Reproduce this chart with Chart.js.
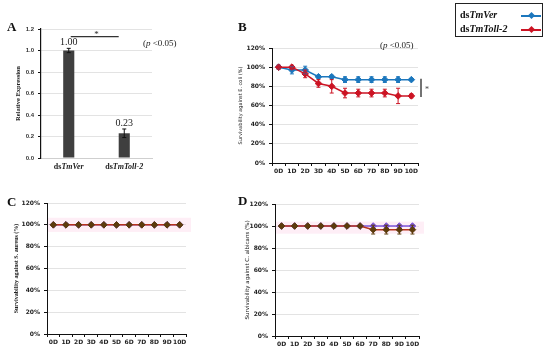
<!DOCTYPE html>
<html>
<head>
<meta charset="utf-8">
<script src="https://cdn.jsdelivr.net/npm/chart.js@4.4.0/dist/chart.umd.min.js"></script>
<style>
  html, body { margin: 0; padding: 0; background: #fff; }
  body { width: 550px; height: 351px; position: relative; overflow: hidden; font-family: "Liberation Serif", serif; }
  canvas { position: absolute; }
  .letter { position: absolute; font: bold 13px "Liberation Serif"; line-height: 13px; color: #111; }
  .pval { position: absolute; font: 9px "Liberation Serif"; line-height: 10px; color: #222; white-space: nowrap; }
  #legend { position: absolute; left: 455px; top: 3px; width: 86px; height: 32px; border: 1px solid #222; font: bold 10px "Liberation Serif"; color: #111; }
  #legend .row { position: absolute; left: 4px; height: 12px; line-height: 12px; white-space: nowrap; }
  #legend .mk { position: absolute; left: 65px; width: 20px; height: 1.5px; }
  #legend .mk::after { content: ""; position: absolute; left: 7.5px; top: -2px; width: 5px; height: 5px; transform: rotate(45deg); background: inherit; }
</style>
</head>
<body>
<canvas id="chartA" width="200" height="180" style="left:0;top:0"></canvas>
<canvas id="chartB" width="250" height="180" style="left:200px;top:0"></canvas>
<canvas id="chartC" width="200" height="171" style="left:0;top:180px"></canvas>
<canvas id="chartD" width="250" height="171" style="left:200px;top:180px"></canvas>

<div class="letter" style="left:7px;top:20px">A</div>
<div class="letter" style="left:238px;top:20px">B</div>
<div class="letter" style="left:7px;top:195px">C</div>
<div class="letter" style="left:238px;top:194px">D</div>

<div class="pval" style="left:143px;top:38px">(<i>p</i> &lt;0.05)</div>
<div class="pval" style="left:380px;top:40px">(<i>p</i> &lt;0.05)</div>

<div id="legend">
  <div class="row" style="top:5px">ds<i>TmVer</i></div>
  <div class="mk" style="top:11px;background:#1c77bd"></div>
  <div class="row" style="top:19px">ds<i>TmToll-2</i></div>
  <div class="mk" style="top:25px;background:#cc1424"></div>
</div>

<script>
// panel A: relative expression
const exprLabels = ["dsTmVer", "dsTmToll-2"];
const exprValues = [1.0, 0.23];
const exprErrors = [0.02, 0.04];

// panels B-D: survivability per day
const dayLabels = ["0D", "1D", "2D", "3D", "4D", "5D", "6D", "7D", "8D", "9D", "10D"];
const ecoliVer = [100, 97, 97, 90, 90, 87, 87, 87, 87, 87, 87];
const ecoliVerErr = [2, 4, 4, 1.5, 1.5, 3, 3, 3, 3, 3, 1];
const ecoliToll = [100, 100, 93, 83, 80, 73, 73, 73, 73, 70, 70];
const ecoliTollErr = [2, 2, 4, 4, 7, 5, 4, 4, 4, 8, 2];
const aureusVer = [100, 100, 100, 100, 100, 100, 100, 100, 100, 100, 100];
const aureusToll = [100, 100, 100, 100, 100, 100, 100, 100, 100, 100, 100];
const albicansVer = [100, 100, 100, 100, 100, 100, 100, 100, 100, 100, 100];
const albicansToll = [100, 100, 100, 100, 100, 100, 100, 96.7, 96.7, 96.7, 96.7];
const albicansTollErr = [0, 0, 0, 0, 0, 0, 0, 4, 4, 4, 4];

const GRID = "#e3e3e3";
const AXIS = "#111";
const VER_BLUE = "#1c77bd";
const TOLL_RED = "#cc1424";
const VER_PURPLE = "#7d55d8";
const TOLL_LINE = "#b8321c";
const TOLL_MARK = "#5c3b0c";

const errorBars = {
  id: "errorBars",
  afterDatasetsDraw(chart) {
    const { ctx } = chart;
    const y = chart.scales.y;
    chart.data.datasets.forEach((ds, i) => {
      if (!ds.errors) return;
      const meta = chart.getDatasetMeta(i);
      ctx.save();
      ctx.strokeStyle = ds.errorColor || ds.borderColor;
      ctx.lineWidth = 1;
      meta.data.forEach((el, j) => {
        const e = ds.errors[j];
        if (!e) return;
        const v = ds.data[j];
        const top = y.getPixelForValue(v + e);
        const bot = y.getPixelForValue(v - e);
        ctx.beginPath();
        ctx.moveTo(el.x, top); ctx.lineTo(el.x, bot);
        ctx.moveTo(el.x - 2, top); ctx.lineTo(el.x + 2, top);
        ctx.moveTo(el.x - 2, bot); ctx.lineTo(el.x + 2, bot);
        ctx.stroke();
      });
      ctx.restore();
    });
  },
};

const band = {
  id: "band",
  beforeDatasetsDraw(chart, args, opts) {
    if (opts.from == null) return;
    const { ctx, chartArea: a, scales: { y } } = chart;
    const t = y.getPixelForValue(opts.to);
    const b = y.getPixelForValue(opts.from);
    ctx.save();
    ctx.fillStyle = opts.color;
    ctx.fillRect(a.left + 1, t, a.right - a.left + 4, b - t);
    ctx.restore();
  },
};

const exprNotes = {
  id: "exprNotes",
  afterDatasetsDraw(chart) {
    const { ctx, chartArea: a, scales: { y } } = chart;
    const bars = chart.getDatasetMeta(0).data;
    ctx.save();
    ctx.fillStyle = "#222";
    ctx.textAlign = "center";
    ctx.textBaseline = "bottom";
    ctx.font = "10px 'Liberation Serif'";
    bars.forEach((bar, i) => {
      const top = y.getPixelForValue(exprValues[i] + exprErrors[i]);
      ctx.fillText(exprValues[i].toFixed(2), bar.x, top - 1);
    });

    // significance line between the bars
    const sy = y.getPixelForValue(1.13);
    ctx.strokeStyle = "#333";
    ctx.lineWidth = 1.2;
    ctx.beginPath();
    ctx.moveTo(bars[0].x + 2, sy);
    ctx.lineTo(bars[1].x - bars[1].width / 2, sy);
    ctx.stroke();
    ctx.textBaseline = "alphabetic";
    ctx.font = "9px 'Liberation Serif'";
    ctx.fillText("*", (bars[0].x + bars[1].x) / 2, sy + 0.5);

    // category labels: "ds" upright, gene name italic
    ctx.textAlign = "left";
    ctx.textBaseline = "middle";
    const ly = a.bottom + 8.5;
    bars.forEach((bar, i) => {
      const head = exprLabels[i].slice(0, 2);
      const tail = exprLabels[i].slice(2);
      ctx.font = "bold 8px 'Liberation Serif'";
      const w1 = ctx.measureText(head).width;
      ctx.font = "italic bold 8px 'Liberation Serif'";
      const w2 = ctx.measureText(tail).width;
      const x0 = bar.x - (w1 + w2) / 2;
      ctx.font = "bold 8px 'Liberation Serif'";
      ctx.fillText(head, x0, ly);
      ctx.font = "italic bold 8px 'Liberation Serif'";
      ctx.fillText(tail, x0 + w1, ly);
    });
    ctx.restore();
  },
};

const ecoliNote = {
  id: "ecoliNote",
  afterDatasetsDraw(chart) {
    const { ctx, chartArea: a, scales: { y } } = chart;
    const n = dayLabels.length - 1;
    const y1 = y.getPixelForValue(ecoliVer[n]);
    const y2 = y.getPixelForValue(ecoliToll[n]);
    const bx = a.right + 3;
    ctx.save();
    ctx.strokeStyle = "#444";
    ctx.lineWidth = 1.5;
    ctx.beginPath();
    ctx.moveTo(bx, y1 - 1);
    ctx.lineTo(bx, y2 + 1);
    ctx.stroke();
    ctx.fillStyle = "#444";
    ctx.font = "8px 'Liberation Serif'";
    ctx.textAlign = "center";
    ctx.fillText("*", bx + 6, (y1 + y2) / 2 + 4);
    ctx.restore();
  },
};

const tickFont = { family: "DejaVu Sans", size: 6, weight: "bold" };

function survivalScales(yWidth, xHeight, title, titleFont) {
  return {
    x: {
      type: "category",
      offset: true,
      afterFit: (s) => { s.height = xHeight; },
      grid: { display: true, drawOnChartArea: false, drawTicks: true, tickLength: 3, color: AXIS, offset: true },
      border: { display: true, color: AXIS, width: 1 },
      ticks: { autoSkip: false, maxRotation: 0, padding: 2, color: "#222", font: tickFont },
    },
    y: {
      min: 0,
      max: 120,
      afterFit: (s) => { s.width = yWidth; },
      grid: { color: GRID, tickColor: AXIS, tickLength: 3 },
      border: { display: true, color: AXIS, width: 1 },
      ticks: { stepSize: 20, padding: 4, color: "#222", font: tickFont, callback: (v) => v + "%" },
      title: { display: true, text: title, color: "#222", font: titleFont, padding: { top: 4, bottom: 4 } },
    },
  };
}

function baseOptions(padding, scales, extra) {
  return Object.assign({
    responsive: false,
    animation: false,
    devicePixelRatio: 1,
    layout: { autoPadding: false, padding },
    plugins: { legend: { display: false }, tooltip: { enabled: false } },
    scales,
  }, extra || {});
}

// lower order is drawn on top
function pointSet(label, data, line, mark, errors, order) {
  return {
    label,
    data,
    errors,
    order,
    errorColor: mark,
    borderColor: line,
    backgroundColor: mark,
    pointBackgroundColor: mark,
    pointBorderColor: mark,
    pointStyle: "rectRot",
    pointRadius: 3.3,
    pointBorderWidth: 1,
    borderWidth: 1.5,
    tension: 0,
  };
}

// A
new Chart(document.getElementById("chartA"), {
  type: "bar",
  data: {
    labels: exprLabels,
    datasets: [{
      data: exprValues,
      errors: exprErrors,
      errorColor: "#111",
      backgroundColor: "#3f3f3f",
      barPercentage: 0.2,
      categoryPercentage: 1,
    }],
  },
  options: baseOptions({ left: 10, top: 29, right: 48, bottom: 0 }, {
    x: {
      afterFit: (s) => { s.height = 22; },
      grid: { display: false },
      border: { display: true, color: "#cfcfcf", width: 1 },
      ticks: { display: false },
    },
    y: {
      min: 0,
      max: 1.2,
      afterFit: (s) => { s.width = 31; },
      grid: { color: GRID, tickColor: AXIS, tickLength: 3 },
      border: { display: true, color: AXIS, width: 1.2 },
      ticks: { stepSize: 0.2, padding: 4, color: "#333", font: { family: "Liberation Sans", size: 6, weight: "bold" }, callback: (v) => v.toFixed(1) },
      title: { display: true, text: "Relative Expression", color: "#222", font: { family: "Liberation Serif", size: 6.5, weight: "bold" }, padding: { top: 4, bottom: 4 } },
    },
  }),
  plugins: [errorBars, exprNotes],
});

// B
new Chart(document.getElementById("chartB"), {
  type: "line",
  data: {
    labels: dayLabels,
    datasets: [
      pointSet("dsTmVer", ecoliVer, VER_BLUE, VER_BLUE, ecoliVerErr, 1),
      pointSet("dsTmToll-2", ecoliToll, TOLL_RED, TOLL_RED, ecoliTollErr, 0),
    ],
  },
  options: baseOptions({ left: 34, top: 48, right: 32, bottom: 0 },
    survivalScales(38, 17, "Survivability against E. coli (%)", { family: "DejaVu Sans", size: 5 })),
  plugins: [errorBars, ecoliNote],
});

// C
new Chart(document.getElementById("chartC"), {
  type: "line",
  data: {
    labels: dayLabels,
    datasets: [
      pointSet("dsTmVer", aureusVer, VER_PURPLE, VER_PURPLE, null, 1),
      pointSet("dsTmToll-2", aureusToll, TOLL_LINE, TOLL_MARK, null, 0),
    ],
  },
  options: baseOptions({ left: 9, top: 23, right: 14, bottom: 0 },
    survivalScales(38, 17, "Survivability against S. aureus (%)", { family: "Liberation Serif", size: 6, weight: "bold" }),
    { plugins: { legend: { display: false }, tooltip: { enabled: false }, band: { from: 93.5, to: 106.5, color: "rgba(252,205,230,0.35)" } } }),
  plugins: [band, errorBars],
});

// D
new Chart(document.getElementById("chartD"), {
  type: "line",
  data: {
    labels: dayLabels,
    datasets: [
      pointSet("dsTmVer", albicansVer, VER_PURPLE, VER_PURPLE, null, 1),
      pointSet("dsTmToll-2", albicansToll, TOLL_LINE, TOLL_MARK, albicansTollErr, 0),
    ],
  },
  options: baseOptions({ left: 40, top: 24, right: 31, bottom: 0 },
    survivalScales(35, 15, "Survivability against C. albicans (%)", { family: "DejaVu Sans", size: 5.5 }),
    { plugins: { legend: { display: false }, tooltip: { enabled: false }, band: { from: 93, to: 104, color: "rgba(252,205,230,0.35)" } } }),
  plugins: [band, errorBars],
});
</script>
</body>
</html>
